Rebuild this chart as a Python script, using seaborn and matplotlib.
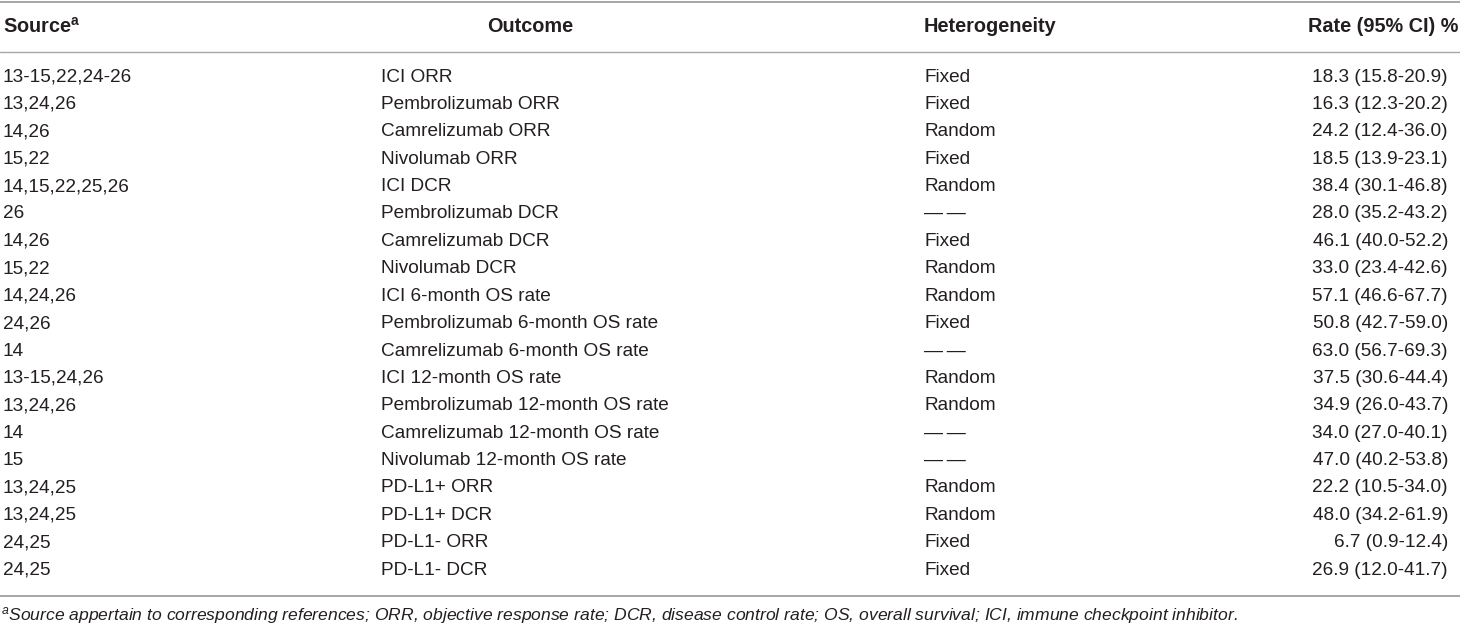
import matplotlib
matplotlib.use("Agg")
import matplotlib.pyplot as plt
import seaborn as sns

# ---------------------------------------------------------
# Table data
# ---------------------------------------------------------
headers = ["Source$^{\\mathbf{a}}$", "Outcome", "Heterogeneity", "Rate (95% CI) %"]

sources = [
    "13-15,22,24-26", "13,24,26", "14,26", "15,22", "14,15,22,25,26",
    "26", "14,26", "15,22", "14,24,26", "24,26", "14", "13-15,24,26",
    "13,24,26", "14", "15", "13,24,25", "13,24,25", "24,25", "24,25",
]
outcomes = [
    "ICI ORR", "Pembrolizumab ORR", "Camrelizumab ORR", "Nivolumab ORR",
    "ICI DCR", "Pembrolizumab DCR", "Camrelizumab DCR", "Nivolumab DCR",
    "ICI 6-month OS rate", "Pembrolizumab 6-month OS rate",
    "Camrelizumab 6-month OS rate", "ICI 12-month OS rate",
    "Pembrolizumab 12-month OS rate", "Camrelizumab 12-month OS rate",
    "Nivolumab 12-month OS rate", "PD-L1+ ORR", "PD-L1+ DCR",
    "PD-L1- ORR", "PD-L1- DCR",
]
NA = "\u2014\u2009\u2014"
heterogeneity = [
    "Fixed", "Fixed", "Random", "Fixed", "Random", NA, "Fixed", "Random",
    "Random", "Fixed", NA, "Random", "Random", NA, NA, "Random",
    "Random", "Fixed", "Fixed",
]
rates = [
    "18.3 (15.8-20.9)", "16.3 (12.3-20.2)", "24.2 (12.4-36.0)",
    "18.5 (13.9-23.1)", "38.4 (30.1-46.8)", "28.0 (35.2-43.2)",
    "46.1 (40.0-52.2)", "33.0 (23.4-42.6)", "57.1 (46.6-67.7)",
    "50.8 (42.7-59.0)", "63.0 (56.7-69.3)", "37.5 (30.6-44.4)",
    "34.9 (26.0-43.7)", "34.0 (27.0-40.1)", "47.0 (40.2-53.8)",
    "22.2 (10.5-34.0)", "48.0 (34.2-61.9)", "6.7 (0.9-12.4)",
    "26.9 (12.0-41.7)",
]
footnote = ("$^{a}$Source appertain to corresponding references; ORR, objective response rate; "
            "DCR, disease control rate; OS, overall survival; ICI, immune checkpoint inhibitor.")

# ---------------------------------------------------------
# Styling
# ---------------------------------------------------------
sns.set_theme(style="white")
plt.rcParams["font.family"] = ["Liberation Sans", "DejaVu Sans"]
plt.rcParams["mathtext.fontset"] = "custom"
plt.rcParams["mathtext.rm"] = "Liberation Sans"
plt.rcParams["mathtext.it"] = "Liberation Sans:italic"
plt.rcParams["mathtext.bf"] = "Liberation Sans:bold"

text_color = "#231f20"
rule_color = "#a6a6a6"
fs_body = 13.7
fs_head = 14.3

fig = plt.figure(figsize=(14.6, 6.26), dpi=100)
ax = fig.add_axes([0, 0, 1, 1])
ax.set_xlim(0, 1460)
ax.set_ylim(626, 0)
ax.axis("off")

# column anchors (pixels)
col_x = [3, 381, 924, 1448]
header_x = [3, 530, 924, 1458]
header_ha = ["left", "center", "left", "right"]
header_y = 27
row0_y = 77
row_step = 27.4

# rules
ax.axhline(2, color=rule_color, lw=1.4)
ax.axhline(51.5, color=rule_color, lw=1.0)
ax.axhline(596, color=rule_color, lw=1.4)

# header
for x, ha, h in zip(header_x, header_ha, headers):
    ax.text(x, header_y, h, ha=ha, va="center", fontsize=fs_head,
            fontweight="bold", color=text_color)

# body
columns = [sources, outcomes, heterogeneity, rates]
aligns = ["left", "left", "left", "right"]
for col, x, ha in zip(columns, col_x, aligns):
    for i, val in enumerate(col):
        ax.text(x, row0_y + i * row_step, val, ha=ha, va="center",
                fontsize=fs_body, color=text_color)

# footnote
ax.text(1, 615, footnote, ha="left", va="center", fontsize=12.6,
        style="italic", color=text_color)

fig.savefig("out.png", dpi=100)
